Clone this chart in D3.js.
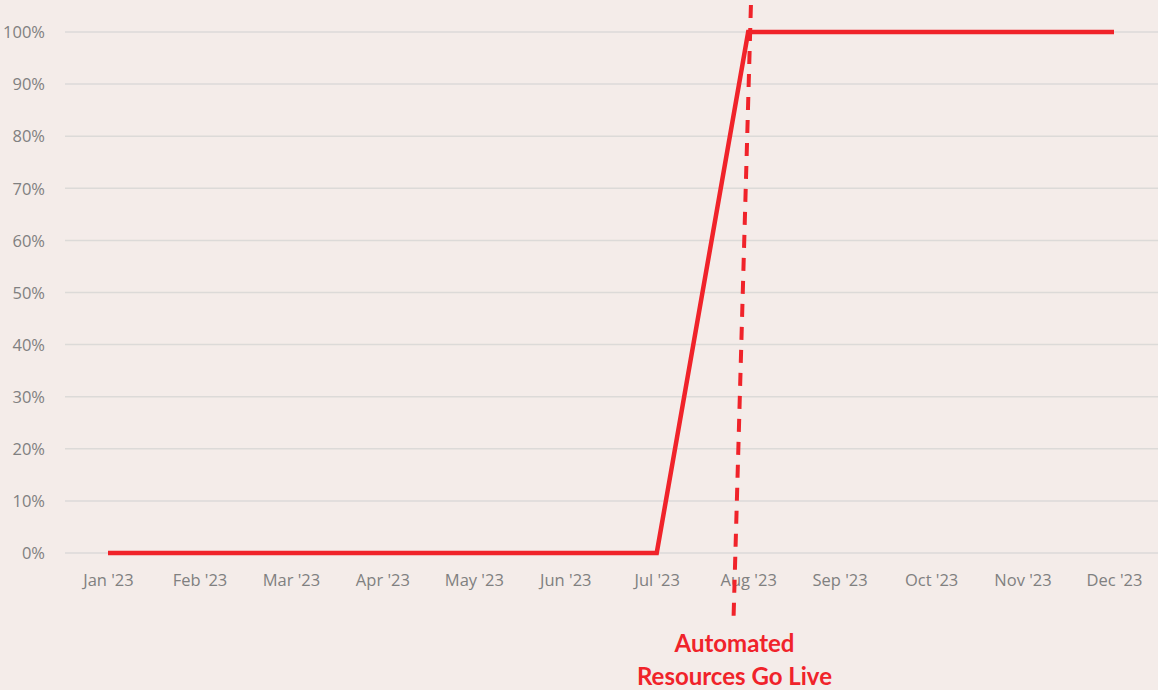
<!DOCTYPE html>
<html>
<head>
<meta charset="utf-8">
<script src="https://cdn.jsdelivr.net/npm/d3@7"></script>
<style>
  html, body { margin: 0; padding: 0; background: #f4ece9; }
  svg { display: block; }
</style>
</head>
<body>
<script>
// data
const months = ["Jan '23", "Feb '23", "Mar '23", "Apr '23", "May '23", "Jun '23",
                "Jul '23", "Aug '23", "Sep '23", "Oct '23", "Nov '23", "Dec '23"];
const adoption = [0, 0, 0, 0, 0, 0, 0, 100, 100, 100, 100, 100];
const yTicks = [0, 10, 20, 30, 40, 50, 60, 70, 80, 90, 100];
const goLiveLabel = ["Automated", "Resources Go Live"];

const width = 1158;
const height = 690;

const svg = d3.select("body")
    .append("svg")
    .attr("width", width)
    .attr("height", height);

svg.append("rect")
    .attr("width", width)
    .attr("height", height)
    .attr("fill", "#f4ece9");

// scales
const x = d3.scalePoint().domain(months).range([108, 1114]);
const y = d3.scaleLinear().domain([0, 100]).range([553, 32]);

// gridlines
svg.append("g")
    .selectAll("line")
    .data(yTicks)
    .enter()
    .append("line")
    .attr("x1", 65)
    .attr("x2", width)
    .attr("y1", d => y(d))
    .attr("y2", d => y(d))
    .attr("stroke", "#dcdad8")
    .attr("stroke-width", 1.5);

// y axis
const yAxis = d3.axisLeft(y)
    .tickValues(yTicks)
    .tickFormat(d => d + "%")
    .tickSize(0)
    .tickPadding(0);

svg.append("g")
    .attr("transform", "translate(45,0)")
    .call(yAxis)
    .call(g => g.select(".domain").remove())
    .selectAll("text")
    .style("font-family", "'Open Sans', sans-serif")
    .style("font-size", "16.5px")
    .attr("fill", "#808080")
    .attr("dy", "0.35em");

// x axis
const xAxis = d3.axisBottom(x).tickSize(0).tickPadding(0);

svg.append("g")
    .attr("transform", "translate(0,580)")
    .call(xAxis)
    .call(g => g.select(".domain").remove())
    .selectAll("text")
    .style("font-family", "'Open Sans', sans-serif")
    .style("font-size", "16.5px")
    .attr("fill", "#808080")
    .attr("dy", "0.35em");

// data line
const line = d3.line()
    .x((d, i) => x(months[i]))
    .y(d => y(d));

svg.append("path")
    .datum(adoption)
    .attr("d", line)
    .attr("fill", "none")
    .attr("stroke", "#f0232a")
    .attr("stroke-width", 4.5)
    .attr("stroke-linejoin", "miter");

// go-live marker (slightly slanted dashed line near Aug)
const step = x.step();
const aug = x("Aug '23");
svg.append("line")
    .attr("x1", aug + step * 0.03)
    .attr("y1", 5)
    .attr("x2", aug - step * 0.16)
    .attr("y2", 618)
    .attr("stroke", "#f0232a")
    .attr("stroke-width", 4)
    .attr("stroke-dasharray", "13 10");

svg.append("g")
    .selectAll("text")
    .data(goLiveLabel)
    .enter()
    .append("text")
    .attr("x", aug - step * 0.15)
    .attr("y", (d, i) => 652 + i * 33)
    .attr("text-anchor", "middle")
    .style("font-family", "Lato, 'Open Sans', sans-serif")
    .style("font-weight", "bold")
    .style("font-size", "24px")
    .attr("fill", "#f0232a")
    .text(d => d);
</script>
</body>
</html>
